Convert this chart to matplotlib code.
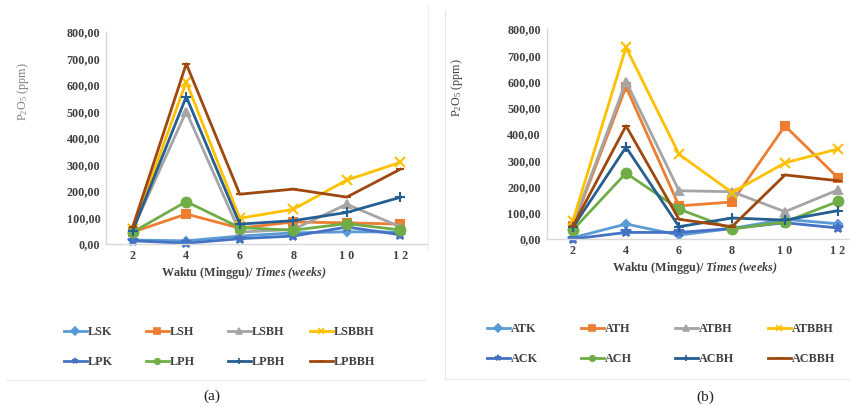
import numpy as np
import matplotlib
matplotlib.use('Agg')
import matplotlib.pyplot as plt
from matplotlib.lines import Line2D
from matplotlib.ticker import FuncFormatter

plt.rcParams['font.family'] = 'Liberation Serif'
plt.rcParams['mathtext.fontset'] = 'custom'
plt.rcParams['mathtext.rm'] = 'Liberation Serif'
plt.rcParams['mathtext.it'] = 'Liberation Serif:italic'
plt.rcParams['mathtext.bf'] = 'Liberation Serif:bold'
plt.rcParams['mathtext.bfit'] = 'Liberation Serif:bold:italic'

weeks = [2, 4, 6, 8, 10, 12]

# panel (a)
names_a = ['LSK', 'LSH', 'LSBH', 'LSBBH', 'LPK', 'LPH', 'LPBH', 'LPBBH']
LSK = [15, 12, 30, 42, 46, 45]
LSH = [45, 113, 60, 83, 80, 75]
LSBH = [55, 500, 45, 55, 150, 65]
LSBBH = [55, 612, 97, 131, 241, 308]
LPK = [12, 3, 20, 30, 64, 35]
LPH = [45, 160, 62, 52, 77, 53]
LPBH = [50, 556, 75, 88, 119, 176]
LPBBH = [65, 680, 188, 207, 177, 282]
vals_a = [LSK, LSH, LSBH, LSBBH, LPK, LPH, LPBH, LPBBH]

# panel (b)
names_b = ['ATK', 'ATH', 'ATBH', 'ATBBH', 'ACK', 'ACH', 'ACBH', 'ACBBH']
ATK = [5, 57, 15, 40, 75, 58]
ATH = [50, 580, 126, 141, 431, 233]
ATBH = [55, 600, 184, 180, 104, 187]
ATBBH = [70, 730, 323, 177, 290, 343]
ACK = [0, 25, 25, 40, 62, 42]
ACH = [35, 251, 114, 38, 65, 143]
ACBH = [45, 350, 47, 80, 72, 108]
ACBBH = [50, 431, 75, 47, 244, 222]
vals_b = [ATK, ATH, ATBH, ATBBH, ACK, ACH, ACBH, ACBBH]

colors = ['#5B9BD5', '#ED7D31', '#A5A5A5', '#FFC000',
          '#4472C4', '#70AD47', '#255E91', '#9E480E']
markers = ['D', 's', '^', 'x', '*', 'o', '+', '_']
msizes = [4, 6, 6, 7, 7, 7, 7, 6]

fig = plt.figure(figsize=(8.5, 4.07), dpi=100)

ax_a = fig.add_axes([106/850, 1-244/407, 321/850, 212/407])
ax_b = fig.add_axes([546.5/850, 1-239/407, 318/850, 210/407])

txt = '#404040'


def draw(ax, vals, names, ylab_color):
    handles = []
    for v, n, c, m, s in zip(vals, names, colors, markers, msizes):
        h, = ax.plot(weeks, v, color=c, lw=2, marker=m, ms=s, mew=1.5,
                     label=n, clip_on=False)
        handles.append(h)
    ax.set_xlim(1, 13)
    ax.set_ylim(0, 800)
    ax.set_xticks(weeks)
    ax.set_xticklabels([str(w) if w < 10 else ' '.join(str(w)) for w in weeks])
    ax.set_yticks(np.arange(0, 801, 100))
    ax.yaxis.set_major_formatter(FuncFormatter(lambda y, p: f'{y:.2f}'.replace('.', ',')))
    ax.tick_params(length=0, labelsize=8.7, colors=txt, pad=4)
    for lab in ax.get_xticklabels() + ax.get_yticklabels():
        lab.set_fontweight('bold')
    for s in ['top', 'right']:
        ax.spines[s].set_visible(False)
    for s in ['left', 'bottom']:
        ax.spines[s].set_color('#d9d9d9')
        ax.spines[s].set_linewidth(1)
    ax.set_xlabel(r'$\mathbf{Waktu\ (Minggu)/}$ $\mathbfit{Times\ (weeks)}$',
                  fontsize=8.7, color=txt, labelpad=6)
    ax.set_ylabel(r'P$_2$O$_5$ (ppm)', fontsize=8.7, color=ylab_color)
    return handles


h_a = draw(ax_a, vals_a, names_a, '#7f7f7f')
h_b = draw(ax_b, vals_b, names_b, txt)
ax_a.yaxis.set_label_coords(-0.235, 0.72)
ax_b.yaxis.set_label_coords(-0.255, 0.72)
ax_a.xaxis.set_label_coords(0.43, -0.1)
ax_b.xaxis.set_label_coords(0.465, -0.1)


def legend_cols(handles, xs, ytop):
    for i, x in enumerate(xs):
        hs = []
        for h in (handles[i], handles[i + 4]):
            hs.append(Line2D([], [], color=h.get_color(), lw=2,
                             marker=h.get_marker(), ms=4, mew=1.2))
        leg = fig.legend(hs, [handles[i].get_label(), handles[i + 4].get_label()],
                         loc='upper left', bbox_to_anchor=(x/850, 1-ytop/407),
                         frameon=False, fontsize=8.7, handlelength=1.9,
                         handletextpad=0.1, labelspacing=1.5, borderpad=0,
                         borderaxespad=0)
        for t in leg.get_texts():
            t.set_color(txt)
            t.set_fontweight('bold')


legend_cols(h_a, [64, 146, 228, 310], 326)
legend_cols(h_b, [487, 581, 675, 768], 323)

fig.text(212/850, 1-396/407, '(a)', fontsize=11, ha='center', va='center', color='#222222')
fig.text(705/850, 1-397/407, '(b)', fontsize=11, ha='center', va='center', color='#222222')

# faint frame lines of the two chart panels
fig.add_artist(Line2D([7/850, 425/850], [1-380/407, 1-380/407], color='#e8e8e8', lw=0.8))
fig.add_artist(Line2D([445/850, 850/850], [1-379/407, 1-379/407], color='#e8e8e8', lw=0.8))
fig.add_artist(Line2D([445/850, 445/850], [1-10/407, 1-379/407], color='#e8e8e8', lw=0.8))
fig.add_artist(Line2D([428/850, 428/850], [1-5/407, 1-250/407], color='#eeeeee', lw=0.8))

fig.savefig('out.png', dpi=100)
